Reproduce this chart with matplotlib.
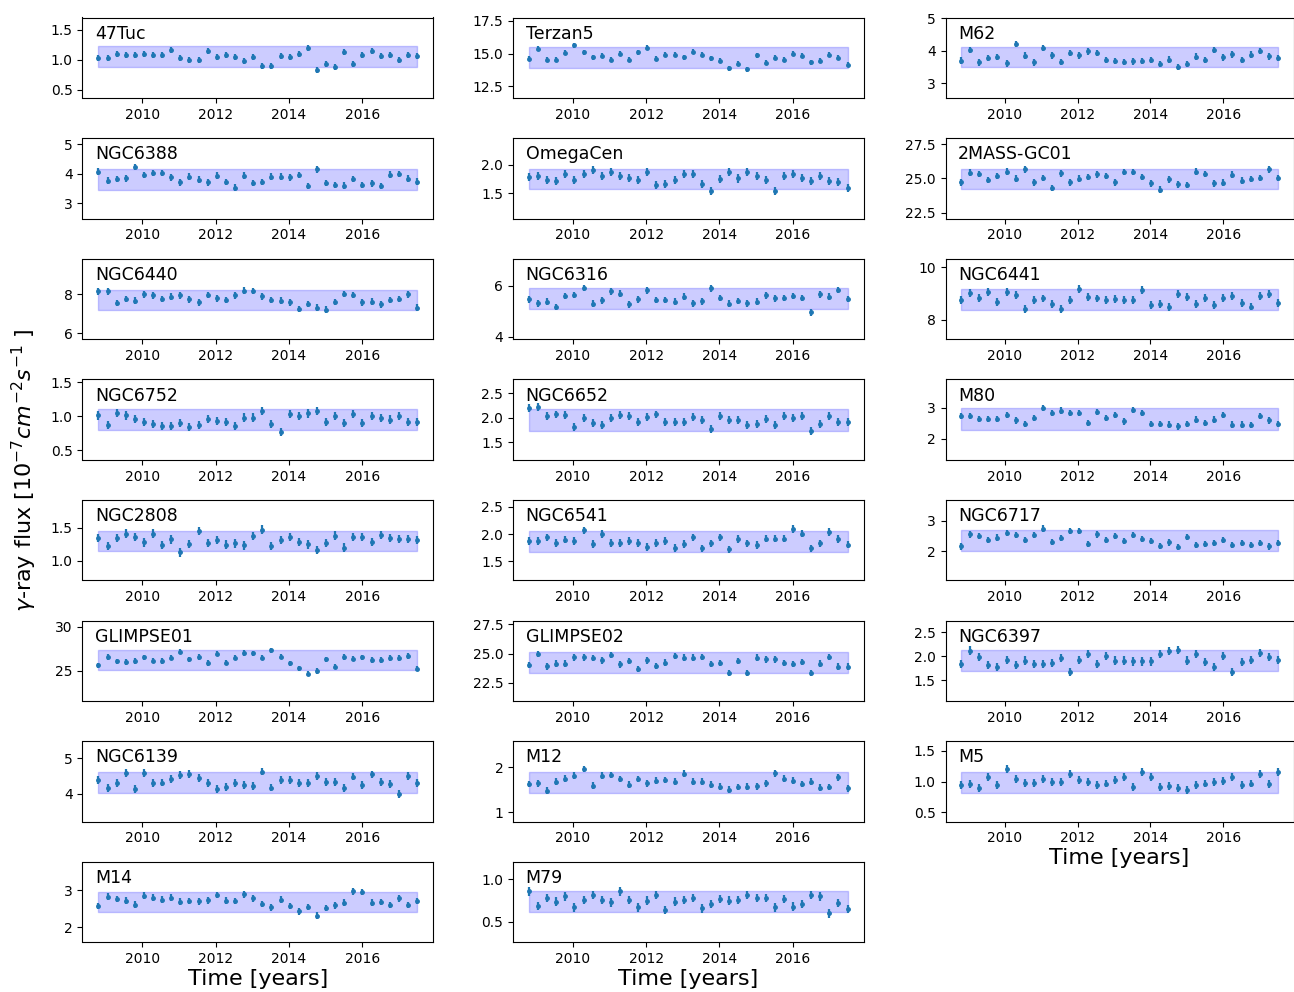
import numpy as np
import matplotlib
matplotlib.use("Agg")
import matplotlib.pyplot as plt

# ---- time axis: quarterly bins ----
times = np.linspace(2008.80, 2017.50, 36)

# ---- flux values [1e-7 cm^-2 s^-1] ----
flux_47Tuc = [1.02, 1.03, 1.10, 1.08, 1.08, 1.10, 1.07, 1.08, 1.16, 1.02, 0.99, 1.00, 1.14, 1.04, 1.07, 1.04, 0.97, 1.05,
              0.90, 0.90, 1.06, 1.05, 1.09, 1.20, 0.82, 0.93, 0.88, 1.13, 0.93, 1.08, 1.14, 1.06, 1.08, 1.00, 1.08, 1.06]
flux_Terzan5 = [14.62, 15.36, 14.54, 14.54, 15.08, 15.63, 15.10, 14.72, 14.82, 14.52, 15.00, 14.54, 15.10, 15.46, 14.62, 14.92, 14.92, 14.72,
                15.13, 14.92, 14.64, 14.47, 13.88, 14.21, 13.81, 14.87, 14.31, 14.67, 14.52, 14.97, 14.85, 14.34, 14.47, 14.90, 14.67, 14.16]
flux_M62 = [3.70, 4.02, 3.64, 3.77, 3.81, 3.61, 4.21, 3.85, 3.64, 4.09, 3.86, 3.65, 3.93, 3.86, 3.98, 3.93, 3.71, 3.68,
            3.66, 3.67, 3.69, 3.72, 3.59, 3.73, 3.50, 3.59, 3.82, 3.71, 4.02, 3.80, 3.89, 3.72, 3.88, 3.99, 3.83, 3.78]
flux_NGC6388 = [4.07, 3.76, 3.81, 3.84, 4.22, 3.96, 4.02, 4.02, 3.87, 3.70, 3.90, 3.80, 3.70, 3.93, 3.72, 3.53, 3.93, 3.69,
                3.71, 3.90, 3.90, 3.87, 3.96, 3.58, 4.14, 3.69, 3.62, 3.59, 3.82, 3.62, 3.67, 3.58, 3.97, 3.99, 3.83, 3.73]
flux_OmegaCen = [1.78, 1.80, 1.73, 1.72, 1.84, 1.73, 1.83, 1.90, 1.81, 1.87, 1.81, 1.77, 1.73, 1.88, 1.65, 1.67, 1.74, 1.84,
                 1.83, 1.66, 1.55, 1.75, 1.87, 1.76, 1.87, 1.81, 1.73, 1.55, 1.81, 1.83, 1.77, 1.71, 1.81, 1.71, 1.70, 1.60]
flux_2MASS = [24.71, 25.41, 25.32, 24.88, 25.17, 25.49, 24.98, 25.66, 24.71, 25.02, 24.30, 25.36, 24.71, 24.98, 25.10, 25.29, 25.17, 24.71,
              25.46, 25.46, 25.10, 24.64, 24.17, 24.93, 24.56, 24.51, 25.49, 25.32, 24.64, 24.68, 25.27, 24.83, 24.95, 25.02, 25.66, 25.02]
flux_NGC6440 = [8.13, 8.13, 7.55, 7.75, 7.67, 7.98, 7.93, 7.75, 7.87, 7.93, 7.73, 7.58, 7.95, 7.78, 7.70, 7.93, 8.17, 8.15,
                7.88, 7.70, 7.67, 7.57, 7.23, 7.50, 7.30, 7.20, 7.60, 8.00, 7.95, 7.58, 7.62, 7.47, 7.70, 7.75, 7.98, 7.30]
flux_NGC6316 = [5.47, 5.31, 5.38, 5.17, 5.60, 5.64, 5.91, 5.30, 5.43, 5.78, 5.69, 5.27, 5.47, 5.82, 5.44, 5.45, 5.38, 5.57,
                5.31, 5.39, 5.90, 5.52, 5.30, 5.40, 5.31, 5.38, 5.62, 5.51, 5.52, 5.60, 5.52, 4.96, 5.66, 5.57, 5.84, 5.48]
flux_NGC6441 = [8.75, 9.01, 8.84, 9.04, 8.67, 9.04, 8.94, 8.42, 8.75, 8.81, 8.60, 8.42, 8.75, 9.17, 8.88, 8.81, 8.75, 8.78,
                8.75, 8.75, 9.13, 8.56, 8.59, 8.47, 8.97, 8.88, 8.60, 8.84, 8.56, 8.84, 8.91, 8.62, 8.50, 8.91, 8.97, 8.62]
flux_NGC6752 = [1.01, 0.87, 1.05, 1.01, 0.96, 0.91, 0.89, 0.85, 0.85, 0.90, 0.84, 0.87, 0.96, 0.93, 0.92, 0.85, 0.98, 0.98,
                1.07, 0.88, 0.77, 1.03, 1.00, 1.04, 1.08, 0.92, 1.00, 0.90, 1.03, 0.90, 1.00, 0.97, 0.95, 1.00, 0.92, 0.91]
flux_NGC6652 = [2.20, 2.22, 2.03, 2.07, 2.05, 1.81, 1.99, 1.90, 1.85, 1.99, 2.05, 2.03, 1.92, 2.01, 2.07, 1.91, 1.91, 1.92,
                2.01, 1.95, 1.77, 2.03, 1.95, 1.95, 1.86, 1.88, 1.97, 1.85, 2.03, 2.00, 2.04, 1.73, 1.87, 2.03, 1.92, 1.92]
flux_M80 = [2.73, 2.73, 2.63, 2.63, 2.63, 2.76, 2.59, 2.48, 2.67, 2.99, 2.84, 2.91, 2.82, 2.83, 2.51, 2.87, 2.68, 2.76,
            2.56, 2.92, 2.84, 2.48, 2.48, 2.46, 2.40, 2.48, 2.62, 2.52, 2.62, 2.77, 2.46, 2.46, 2.45, 2.73, 2.59, 2.48]
flux_NGC2808 = [1.35, 1.225, 1.35, 1.415, 1.36, 1.28, 1.415, 1.24, 1.325, 1.13, 1.255, 1.455, 1.275, 1.315, 1.245, 1.265, 1.235, 1.38,
                1.475, 1.225, 1.315, 1.365, 1.29, 1.25, 1.165, 1.275, 1.385, 1.20, 1.36, 1.36, 1.285, 1.39, 1.345, 1.33, 1.33, 1.315]
flux_NGC6541 = [1.87, 1.88, 1.94, 1.84, 1.90, 1.87, 2.07, 1.82, 2.00, 1.84, 1.84, 1.88, 1.84, 1.76, 1.84, 1.88, 1.75, 1.82,
                1.94, 1.74, 1.83, 1.94, 1.72, 1.91, 1.83, 1.80, 1.92, 1.92, 1.92, 2.10, 2.01, 1.74, 1.83, 2.04, 1.91, 1.81]
flux_NGC6717 = [2.16, 2.55, 2.50, 2.36, 2.45, 2.61, 2.53, 2.36, 2.52, 2.74, 2.30, 2.43, 2.65, 2.65, 2.23, 2.55, 2.38, 2.51,
                2.33, 2.52, 2.39, 2.35, 2.17, 2.29, 2.13, 2.46, 2.20, 2.23, 2.28, 2.38, 2.21, 2.26, 2.22, 2.26, 2.16, 2.26]
flux_GLIMPSE01 = [25.64, 26.58, 26.09, 26.02, 26.13, 26.54, 26.17, 26.13, 26.50, 27.18, 26.32, 26.58, 25.90, 26.95, 25.94, 26.50, 27.03, 26.99,
                  26.50, 27.33, 26.62, 25.86, 25.30, 24.70, 25.00, 26.32, 25.49, 26.58, 26.39, 26.54, 26.24, 26.24, 26.47, 26.47, 26.69, 25.26]
flux_GLIMPSE02 = [24.03, 24.94, 23.90, 24.14, 24.14, 24.67, 24.67, 24.61, 24.42, 24.86, 24.06, 24.34, 23.67, 24.42, 23.95, 24.23, 24.78, 24.64,
                  24.64, 24.72, 24.09, 24.20, 23.32, 24.34, 23.32, 24.64, 24.50, 24.50, 24.20, 24.09, 24.28, 23.32, 24.14, 24.70, 23.87, 23.87]
flux_NGC6397 = [1.84, 2.12, 1.99, 1.82, 1.78, 1.93, 1.82, 1.91, 1.84, 1.84, 1.86, 1.96, 1.66, 1.93, 2.04, 1.84, 2.00, 1.91,
                1.91, 1.89, 1.89, 1.89, 2.04, 2.11, 2.13, 1.91, 2.04, 1.88, 1.77, 2.00, 1.66, 1.88, 1.93, 2.06, 1.98, 1.93]
flux_NGC6139 = [4.38, 4.16, 4.30, 4.57, 4.13, 4.57, 4.30, 4.31, 4.40, 4.52, 4.56, 4.45, 4.30, 4.14, 4.19, 4.30, 4.24, 4.22,
                4.62, 4.17, 4.38, 4.38, 4.29, 4.30, 4.50, 4.33, 4.33, 4.16, 4.48, 4.25, 4.54, 4.33, 4.26, 3.98, 4.50, 4.30]
flux_M12 = [1.63, 1.64, 1.48, 1.68, 1.75, 1.81, 1.96, 1.59, 1.81, 1.83, 1.74, 1.61, 1.74, 1.64, 1.70, 1.72, 1.68, 1.86,
            1.68, 1.68, 1.61, 1.57, 1.50, 1.56, 1.57, 1.58, 1.64, 1.87, 1.75, 1.70, 1.63, 1.68, 1.55, 1.56, 1.78, 1.53]
flux_M5 = [0.94, 0.96, 0.89, 1.08, 0.95, 1.20, 1.05, 0.98, 0.98, 1.05, 1.00, 1.00, 1.13, 1.02, 0.99, 0.95, 0.97, 1.02,
           1.08, 0.91, 1.16, 1.08, 0.91, 0.93, 0.89, 0.87, 0.94, 0.97, 1.00, 1.01, 1.08, 0.95, 0.97, 1.13, 0.96, 1.15]
flux_M14 = [2.57, 2.83, 2.77, 2.72, 2.61, 2.86, 2.80, 2.75, 2.80, 2.69, 2.71, 2.70, 2.73, 2.87, 2.72, 2.71, 2.89, 2.78,
            2.63, 2.54, 2.75, 2.57, 2.43, 2.55, 2.31, 2.52, 2.59, 2.67, 2.97, 2.96, 2.67, 2.68, 2.60, 2.78, 2.60, 2.71]
flux_M79 = [0.86, 0.69, 0.78, 0.74, 0.80, 0.67, 0.76, 0.82, 0.76, 0.73, 0.86, 0.76, 0.67, 0.75, 0.82, 0.64, 0.74, 0.76,
            0.78, 0.66, 0.71, 0.77, 0.75, 0.76, 0.82, 0.78, 0.78, 0.67, 0.77, 0.68, 0.71, 0.82, 0.80, 0.60, 0.72, 0.65]

# ---- panel metadata (grid order, row-major, 3 columns) ----
names = ["47Tuc", "Terzan5", "M62",
         "NGC6388", "OmegaCen", "2MASS-GC01",
         "NGC6440", "NGC6316", "NGC6441",
         "NGC6752", "NGC6652", "M80",
         "NGC2808", "NGC6541", "NGC6717",
         "GLIMPSE01", "GLIMPSE02", "NGC6397",
         "NGC6139", "M12", "M5",
         "M14", "M79"]
fluxes = [flux_47Tuc, flux_Terzan5, flux_M62,
          flux_NGC6388, flux_OmegaCen, flux_2MASS,
          flux_NGC6440, flux_NGC6316, flux_NGC6441,
          flux_NGC6752, flux_NGC6652, flux_M80,
          flux_NGC2808, flux_NGC6541, flux_NGC6717,
          flux_GLIMPSE01, flux_GLIMPSE02, flux_NGC6397,
          flux_NGC6139, flux_M12, flux_M5,
          flux_M14, flux_M79]
# typical 1-sigma error per source
errors = [0.05, 0.19, 0.10, 0.11, 0.07, 0.24, 0.17, 0.13, 0.15, 0.06, 0.08, 0.10,
          0.065, 0.07, 0.10, 0.30, 0.28, 0.085, 0.11, 0.075, 0.065, 0.09, 0.05]
# variability band (low, high)
band_low = [0.87, 13.91, 3.49, 3.46, 1.575, 24.22, 7.20, 5.08, 8.38, 0.79, 1.74, 2.29,
            1.15, 1.68, 2.02, 25.08, 23.37, 1.70, 4.03, 1.42, 0.82, 2.40, 0.62]
band_high = [1.22, 15.51, 4.10, 4.17, 1.93, 25.70, 8.23, 5.90, 9.17, 1.10, 2.19, 2.99,
             1.46, 2.06, 2.68, 27.37, 25.11, 2.13, 4.61, 1.89, 1.16, 2.96, 0.865]
ylims = [(0.36, 1.70), (11.61, 17.75), (2.55, 5.02), (2.48, 5.20), (1.06, 2.465), (22.06, 27.94),
         (5.70, 9.80), (3.91, 7.06), (7.25, 10.33), (0.36, 1.54), (1.14, 2.79), (1.33, 3.91),
         (0.705, 1.925), (1.15, 2.63), (1.06, 3.67), (21.6, 30.71), (20.93, 27.83), (1.06, 2.75),
         (3.21, 5.48), (0.79, 2.585), (0.35, 1.66), (1.59, 3.78), (0.26, 1.21)]
yticks = [[0.5, 1.0, 1.5], [12.5, 15.0, 17.5], [3, 4, 5],
          [3, 4, 5], [1.5, 2.0], [22.5, 25.0, 27.5],
          [6, 8], [4, 6], [8, 10],
          [0.5, 1.0, 1.5], [1.5, 2.0, 2.5], [2, 3],
          [1.0, 1.5], [1.5, 2.0, 2.5], [2, 3],
          [25, 30], [22.5, 25.0, 27.5], [1.5, 2.0, 2.5],
          [4, 5], [1, 2], [0.5, 1.0, 1.5],
          [2, 3], [0.5, 1.0]]
xticks = [2010, 2012, 2014, 2016]

W, H = 1294, 992
fig = plt.figure(figsize=(W / 100, H / 100), dpi=100)

col_left = [82.5, 513.0, 945.5]
col_width = [350.5, 350.5, 348.0]
row_top0, row_pitch, row_h = 17.5, 120.6, 80.5

last_in_col = {0: 21, 1: 22, 2: 20}

for k, (name, flux) in enumerate(zip(names, fluxes)):
    r, c = divmod(k, 3)
    top = row_top0 + r * row_pitch
    ax = fig.add_axes([col_left[c] / W, 1 - (top + row_h) / H, col_width[c] / W, row_h / H])
    ax.fill_between(times, band_low[k], band_high[k], color="blue", alpha=0.2)
    ax.errorbar(times, flux, yerr=errors[k], fmt=".", color="#1f77b4", ms=5, elinewidth=1.6)
    ax.set_ylim(*ylims[k])
    ax.set_yticks(yticks[k])
    ax.set_xticks(xticks)
    ax.tick_params(labelsize=10)
    ax.text(0.036, 0.735, name, transform=ax.transAxes, fontsize=12.5, va="baseline", ha="left")
    if last_in_col[c] == k:
        ax.set_xlabel("Time [years]", fontsize=16, labelpad=2)

fig.text(0.019, 0.526, r"$\gamma$-ray flux [$10^{-7} cm^{-2} s^{-1}$ ]", rotation=90,
         fontsize=16, ha="center", va="center")

fig.savefig("out.png", dpi=100)
